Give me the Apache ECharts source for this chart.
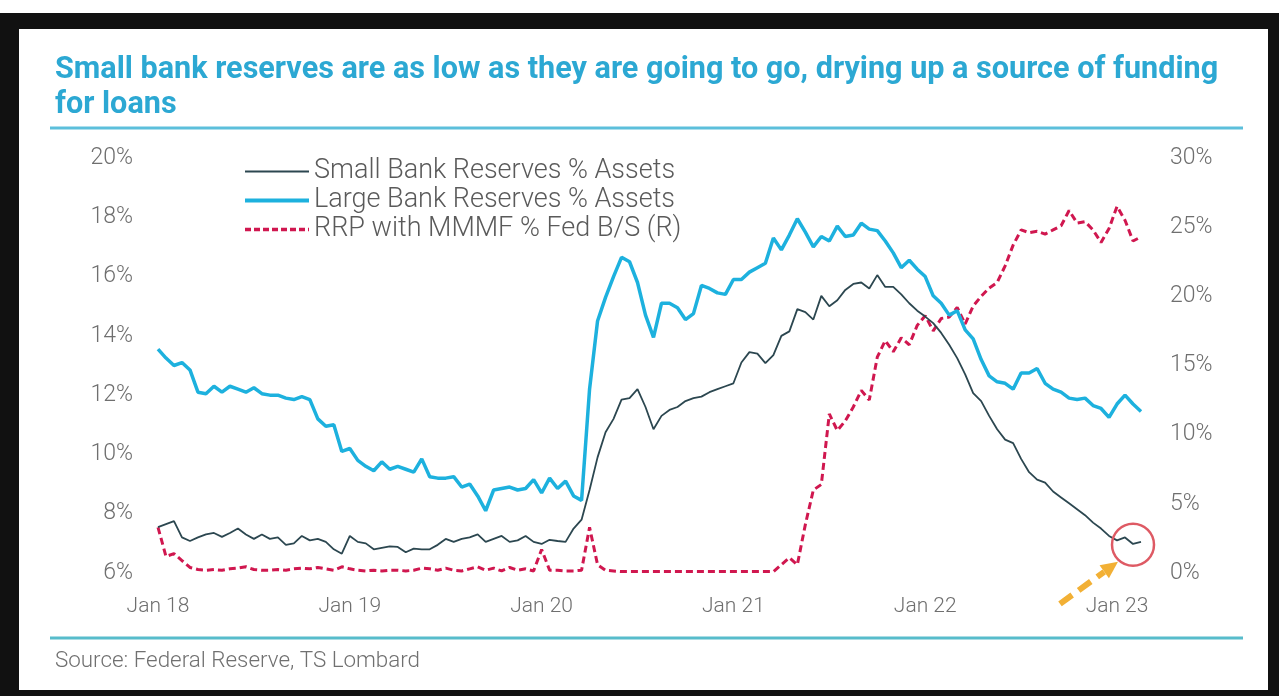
<!DOCTYPE html>
<html>
<head>
<meta charset="utf-8">
<script src="https://cdn.jsdelivr.net/npm/echarts@6/dist/echarts.min.js"></script>
<style>
  html, body { margin: 0; padding: 0; background: #ffffff; }
  #frame { position: absolute; left: 0; top: 13px; width: 1279px; height: 683px; background: #111111; }
  #panel { position: absolute; left: 19px; top: 29px; width: 1249px; height: 661px; background: #ffffff; }
  #chart { position: absolute; left: 0; top: 0; width: 1279px; height: 696px; }
</style>
</head>
<body>
<div id="frame"></div>
<div id="panel"></div>
<div id="chart"></div>
<script>
// Semi-monthly observation dates, Jan 2018 – Feb 2023
const dates = [];
for (let y = 2018; y <= 2023; y++) {
  for (let m = 1; m <= 12; m++) {
    for (const d of [1, 16]) {
      if (dates.length < 124) dates.push(y + '-' + String(m).padStart(2, '0') + '-' + String(d).padStart(2, '0'));
    }
  }
}

const titleText = 'Small bank reserves are as low as they are going to go, drying up a source of funding\nfor loans';
const sourceText = 'Source: Federal Reserve, TS Lombard';
const seriesNames = ['Small Bank Reserves % Assets', 'Large Bank Reserves % Assets', 'RRP with MMMF % Fed B/S (R)'];

// Small bank reserves, % of assets (left axis)
const smallBank = [
  7.55, 7.65, 7.75, 7.20, 7.08, 7.20, 7.30, 7.35, 7.22, 7.35, 7.50, 7.30,
  7.15, 7.30, 7.15, 7.20, 6.95, 7.00, 7.25, 7.10, 7.15, 7.05, 6.80, 6.65,
  7.25, 7.05, 7.00, 6.80, 6.85, 6.90, 6.88, 6.70, 6.82, 6.80, 6.80, 6.95,
  7.15, 7.05, 7.15, 7.20, 7.30, 7.05, 7.15, 7.25, 7.05, 7.10, 7.25, 7.05,
  6.98, 7.12, 7.08, 7.05, 7.50, 7.80, 8.80, 9.90, 10.75, 11.20, 11.85, 11.90,
  12.20, 11.60, 10.85, 11.30, 11.50, 11.60, 11.80, 11.90, 11.95, 12.10, 12.20, 12.30,
  12.40, 13.10, 13.45, 13.40, 13.08, 13.35, 14.00, 14.15, 14.90, 14.80, 14.55, 15.35,
  15.00, 15.20, 15.55, 15.75, 15.80, 15.60, 16.05, 15.65, 15.65, 15.40, 15.10, 14.85,
  14.65, 14.43, 14.10, 13.70, 13.25, 12.70, 12.07, 11.80, 11.30, 10.85, 10.50, 10.38,
  9.85, 9.40, 9.15, 9.05, 8.75, 8.55, 8.35, 8.15, 7.95, 7.70, 7.50, 7.25,
  7.10, 7.20, 6.98, 7.05
];

// Large bank reserves, % of assets (left axis)
const largeBank = [
  13.55, 13.25, 13.00, 13.10, 12.85, 12.10, 12.05, 12.30, 12.10, 12.30, 12.20, 12.10,
  12.25, 12.05, 12.00, 12.00, 11.90, 11.85, 11.95, 11.85, 11.20, 10.95, 11.00, 10.10,
  10.20, 9.80, 9.60, 9.45, 9.75, 9.50, 9.60, 9.50, 9.40, 9.85, 9.25, 9.20,
  9.20, 9.25, 8.90, 9.00, 8.60, 8.10, 8.80, 8.85, 8.90, 8.80, 8.85, 9.15,
  8.70, 9.20, 8.85, 9.10, 8.60, 8.45, 12.20, 14.50, 15.30, 16.00, 16.65, 16.50,
  15.80, 14.70, 13.95, 15.10, 15.10, 14.95, 14.55, 14.75, 15.70, 15.60, 15.45, 15.40,
  15.90, 15.90, 16.15, 16.30, 16.45, 17.30, 16.90, 17.40, 17.95, 17.50, 17.00, 17.35,
  17.20, 17.70, 17.35, 17.40, 17.80, 17.60, 17.55, 17.20, 16.80, 16.30, 16.55, 16.25,
  16.00, 15.35, 15.10, 14.70, 14.85, 14.20, 13.90, 13.20, 12.65, 12.45, 12.40, 12.20,
  12.75, 12.75, 12.90, 12.40, 12.20, 12.10, 11.90, 11.85, 11.90, 11.65, 11.55, 11.25,
  11.70, 12.00, 11.70, 11.45
];

// RRP with money market funds, % of Fed balance sheet (right axis)
const rrpShare = [
  3.30, 1.20, 1.40, 0.90, 0.40, 0.25, 0.20, 0.25, 0.20, 0.30, 0.35, 0.45,
  0.25, 0.20, 0.20, 0.25, 0.20, 0.30, 0.35, 0.30, 0.40, 0.30, 0.20, 0.45,
  0.30, 0.20, 0.15, 0.20, 0.15, 0.20, 0.20, 0.15, 0.20, 0.35, 0.30, 0.20,
  0.35, 0.20, 0.15, 0.30, 0.45, 0.20, 0.35, 0.15, 0.40, 0.20, 0.30, 0.15,
  1.70, 0.20, 0.20, 0.15, 0.15, 0.20, 3.30, 0.60, 0.20, 0.15, 0.10, 0.10,
  0.10, 0.10, 0.10, 0.10, 0.10, 0.10, 0.10, 0.10, 0.10, 0.10, 0.10, 0.10,
  0.10, 0.10, 0.10, 0.10, 0.10, 0.10, 0.60, 1.10, 0.60, 3.50, 6.00, 6.40,
  11.50, 10.30, 11.00, 12.00, 13.20, 12.50, 15.60, 16.80, 16.00, 17.00, 16.50, 17.90,
  18.60, 17.50, 18.40, 18.50, 19.20, 18.00, 19.30, 20.00, 20.60, 21.00, 22.20, 23.70,
  24.80, 24.60, 24.70, 24.50, 24.80, 25.10, 26.20, 25.30, 25.40, 24.80, 23.90, 24.90,
  26.50, 25.50, 24.00, 24.30
];

const leftTicks = { min: 6, max: 20, step: 2 };
const rightTicks = { min: 0, max: 30, step: 5 };

// Highlighted low point of small-bank reserves (index on the date axis, value %)
const lowPoint = [122, 6.95];

const COLORS = { small: '#2c4750', large: '#1db1de', rrp: '#d0174f' };

const chart = echarts.init(document.getElementById('chart'), null, { renderer: 'canvas' });
const FONT = 'Roboto, "Noto Sans", sans-serif';

const staticGraphics = [
  { type: 'line', shape: { x1: 50, y1: 128, x2: 1243, y2: 128 }, style: { stroke: '#5cbfdb', lineWidth: 3 } },
  { type: 'line', shape: { x1: 50, y1: 638, x2: 1243, y2: 638 }, style: { stroke: '#57bccb', lineWidth: 3 } },
  { type: 'text', left: 55, top: 650, style: { text: sourceText, fill: '#707070', font: '300 22.4px ' + FONT } }
];

const option = {
  backgroundColor: 'transparent',
  animation: false,
  textStyle: { fontFamily: FONT },
  title: {
    text: titleText,
    left: 50,
    top: 48,
    textStyle: { color: '#2ca8d3', fontSize: 30.6, fontWeight: 'bold', lineHeight: 35, fontFamily: FONT }
  },
  legend: {
    data: [
      { name: seriesNames[0], lineStyle: { width: 2, color: COLORS.small } },
      { name: seriesNames[1], lineStyle: { width: 4, color: COLORS.large } },
      { name: seriesNames[2], lineStyle: { width: 3.5, color: COLORS.rrp, type: [6, 3] } }
    ],
    orient: 'vertical',
    left: 238,
    top: 153,
    itemWidth: 64,
    itemHeight: 14,
    itemGap: 2,
    itemStyle: { opacity: 0 },
    textStyle: { color: '#5a5a5a', fontSize: 27, lineHeight: 27, fontWeight: 300, fontFamily: FONT }
  },
  grid: { left: 158, right: 138, top: 158, bottom: 123, containLabel: false },
  xAxis: {
    type: 'category',
    data: dates,
    boundaryGap: false,
    axisLine: { show: false },
    axisTick: { show: false },
    splitLine: { show: false },
    axisLabel: {
      interval: (i, v) => v.endsWith('-01-01'),
      formatter: v => 'Jan ' + v.slice(2, 4),
      color: '#6f6f6f',
      fontSize: 21,
      fontWeight: 300,
      margin: 23
    }
  },
  yAxis: [
    {
      type: 'value',
      min: leftTicks.min, max: leftTicks.max, interval: leftTicks.step,
      axisLine: { show: false }, axisTick: { show: false }, splitLine: { show: false },
      axisLabel: { formatter: '{value}%', color: '#6f6f6f', fontSize: 23, fontWeight: 300, margin: 25 }
    },
    {
      type: 'value',
      min: rightTicks.min, max: rightTicks.max, interval: rightTicks.step,
      position: 'right',
      axisLine: { show: false }, axisTick: { show: false }, splitLine: { show: false },
      axisLabel: { formatter: '{value}%', color: '#6f6f6f', fontSize: 23, fontWeight: 300, margin: 29 }
    }
  ],
  series: [
    {
      name: seriesNames[2], type: 'line', yAxisIndex: 1, data: rrpShare,
      showSymbol: false, symbol: 'none',
      lineStyle: { color: COLORS.rrp, width: 3, type: [7, 4] },
      itemStyle: { color: COLORS.rrp }, z: 2
    },
    {
      name: seriesNames[1], type: 'line', yAxisIndex: 0, data: largeBank,
      showSymbol: false, symbol: 'none',
      lineStyle: { color: COLORS.large, width: 3.5 },
      itemStyle: { color: COLORS.large }, z: 3
    },
    {
      name: seriesNames[0], type: 'line', yAxisIndex: 0, data: smallBank,
      showSymbol: false, symbol: 'none',
      lineStyle: { color: COLORS.small, width: 1.8 },
      itemStyle: { color: COLORS.small }, z: 4
    }
  ],
  graphic: staticGraphics
};

chart.setOption(option);

// Circle around the recent low and the pointer arrow
const c = chart.convertToPixel({ xAxisIndex: 0, yAxisIndex: 0 }, lowPoint);
const tip = [c[0] - 15, c[1] + 17];
const tail = [tip[0] - 58, tip[1] + 42];
const ang = Math.atan2(tip[1] - tail[1], tip[0] - tail[0]);
const headLen = 17, headHalf = 8;
const base = [tip[0] - headLen * Math.cos(ang), tip[1] - headLen * Math.sin(ang)];
const nx = -Math.sin(ang), ny = Math.cos(ang);

chart.setOption({
  graphic: staticGraphics.concat([
    { type: 'circle', shape: { cx: c[0], cy: c[1], r: 21 }, style: { fill: 'none', stroke: '#de5a64', lineWidth: 2.5 }, z: 10 },
    { type: 'line', shape: { x1: tail[0], y1: tail[1], x2: base[0], y2: base[1] },
      style: { stroke: '#f2b035', lineWidth: 6, lineDash: [15, 8] }, z: 10 },
    { type: 'polygon', shape: { points: [tip, [base[0] + nx * headHalf, base[1] + ny * headHalf], [base[0] - nx * headHalf, base[1] - ny * headHalf]] },
      style: { fill: '#f2b035' }, z: 10 }
  ])
}, { replaceMerge: ['graphic'] });
</script>
</body>
</html>
